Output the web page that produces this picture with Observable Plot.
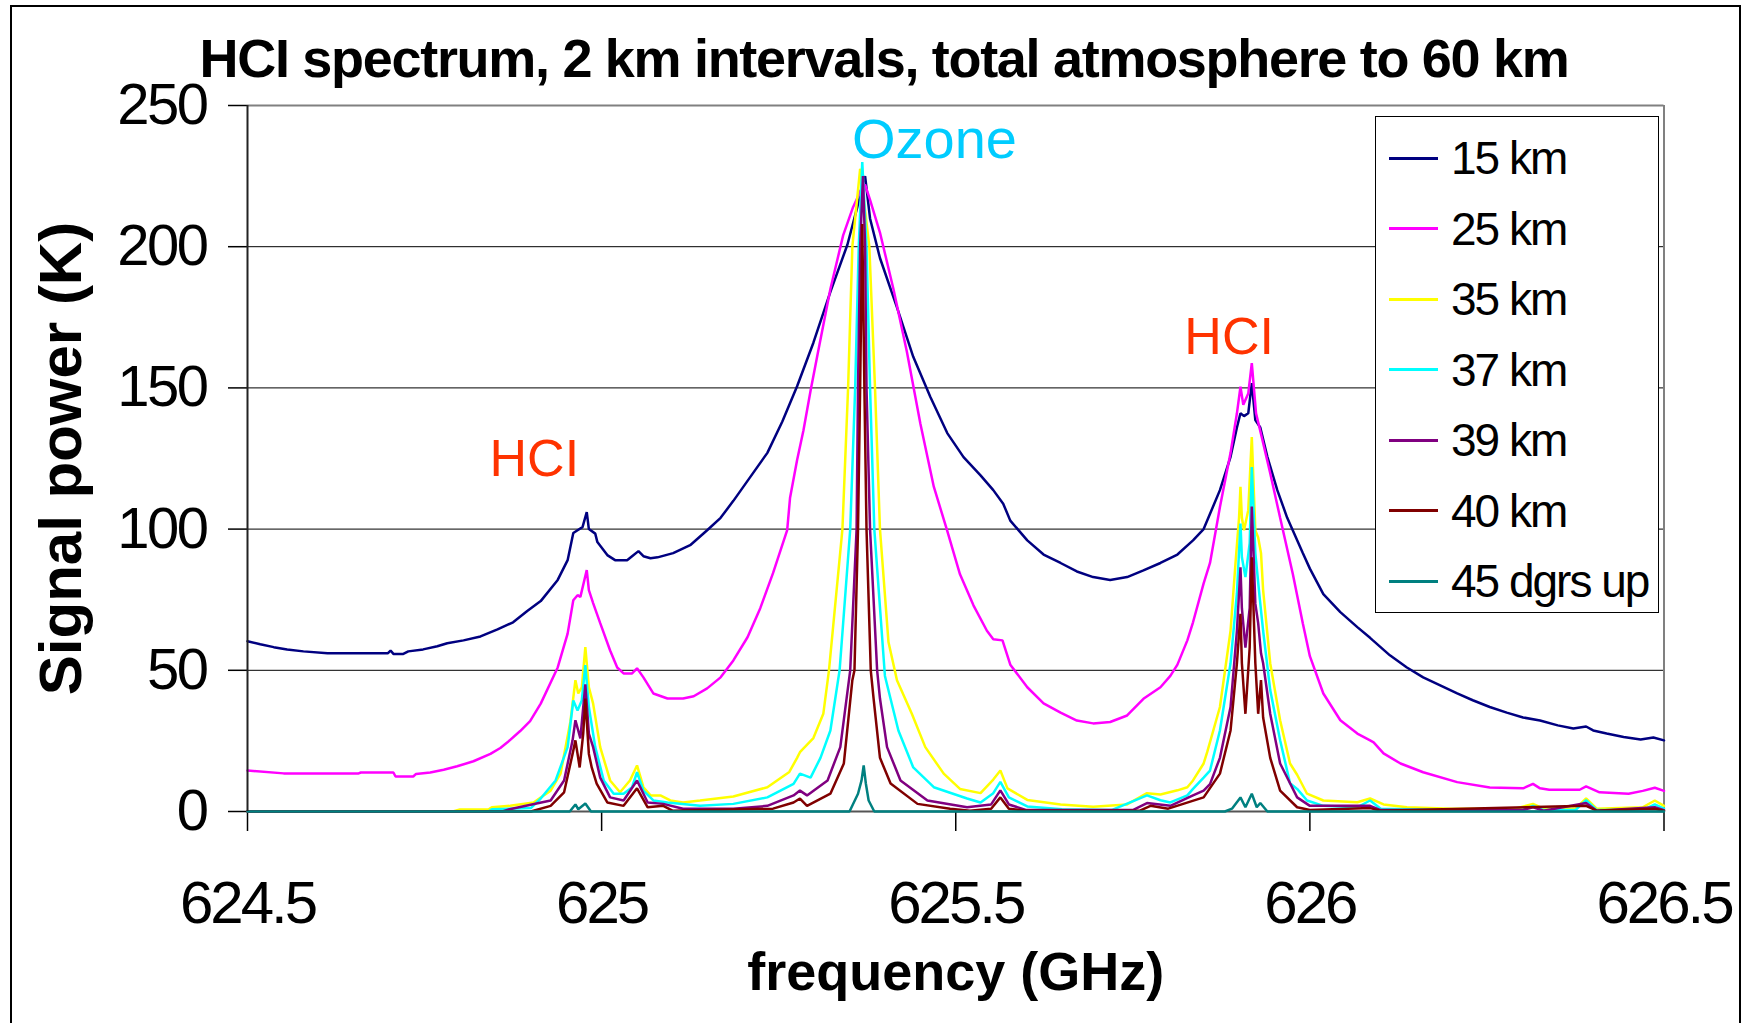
<!DOCTYPE html>
<html><head><meta charset="utf-8">
<script src="https://cdn.jsdelivr.net/npm/d3@7"></script>
<script src="https://cdn.jsdelivr.net/npm/@observablehq/plot@0.6"></script>
<style>
body{margin:0;background:#fff;}
#wrap{position:relative;width:1744px;height:1023px;overflow:hidden;background:#fff;font-family:"Liberation Sans",Arial,sans-serif;}
#border{position:absolute;left:10px;top:5px;width:1731px;height:1100px;border:2px solid #000;box-sizing:border-box;}
#title{position:absolute;left:0;top:31px;width:1768px;text-align:center;font-weight:bold;font-size:54px;line-height:54px;letter-spacing:-1.3px;color:#000;white-space:nowrap;}
#chart{position:absolute;left:0;top:0;}
#legend{position:absolute;left:1375px;top:116px;width:284px;height:497px;border:1.5px solid #000;box-sizing:border-box;background:#fff;}
.lrow{position:absolute;left:0;width:280px;height:46px;}
.lsw{position:absolute;left:13px;top:21.5px;width:49px;height:3px;}
.ltx{position:absolute;left:75px;top:0;font-size:46px;line-height:46px;letter-spacing:-2px;color:#000;white-space:nowrap;}
#chart g[aria-label="x-axis tick label"] text{font-size:60px;letter-spacing:-3px;}
#chart g[aria-label="y-axis tick label"] text{font-size:58px;letter-spacing:-2.5px;}
</style>
</head>
<body>
<div id="wrap">
  <div id="border"></div>
  <div id="chart"></div>
  <div id="title"></div>
  <div id="legend"></div>
</div>
<script>
// ---------- data ----------
const titleText = "HCI spectrum, 2 km intervals, total atmosphere to 60 km";
const xTitle = "frequency (GHz)";
const yTitle = "Signal power (K)";
const xTicks = [624.5, 625, 625.5, 626, 626.5];
const yTicks = [0, 50, 100, 150, 200, 250];
const gridValues = [50, 100, 150, 200];

const seriesNames = ["15 km", "25 km", "35 km", "37 km", "39 km", "40 km", "45 dgrs up"];
const seriesColors = ["#000080", "#FF00FF", "#FFFF00", "#00FFFF", "#800080", "#800000", "#008080"];

const s15 = [[624.5,60.3],[624.518,59.2],[624.537,58.2],[624.556,57.4],[624.579,56.7],[624.613,56],[624.698,56],[624.702,57],[624.706,55.8],[624.72,55.8],[624.727,56.7],[624.748,57.4],[624.768,58.5],[624.782,59.6],[624.805,60.6],[624.829,62],[624.853,64.5],[624.875,67],[624.895,71],[624.914,74.5],[624.938,82],[624.952,89],[624.96,98.6],[624.966,99.6],[624.973,100.7],[624.979,106],[624.982,100],[624.991,98.4],[624.994,95.4],[625.008,90.8],[625.019,89],[625.036,89],[625.043,90.4],[625.052,92.2],[625.059,90.4],[625.069,89.7],[625.079,90],[625.101,91.5],[625.125,94.3],[625.149,99.6],[625.168,104],[625.186,110],[625.21,118.5],[625.234,127],[625.255,138],[625.276,150.6],[625.299,166],[625.323,184],[625.347,200.7],[625.361,214],[625.368,222],[625.372,225],[625.379,210],[625.393,196],[625.417,178.5],[625.44,161],[625.464,146.9],[625.488,134],[625.511,125.5],[625.535,119],[625.553,113.8],[625.567,109],[625.577,103],[625.601,96],[625.624,91],[625.648,88],[625.671,85],[625.694,83],[625.718,82],[625.742,83],[625.765,85.4],[625.789,88],[625.813,91],[625.835,96],[625.85,100],[625.873,113.8],[625.888,125.6],[625.897,136],[625.902,141],[625.907,140],[625.913,141],[625.918,151.7],[625.923,138.6],[625.93,136],[625.94,125.6],[625.954,113.8],[625.968,104],[625.99,91.5],[626.0,86],[626.019,77],[626.043,70.6],[626.067,65.3],[626.085,61.5],[626.089,60.6],[626.113,55.3],[626.137,51],[626.16,47.5],[626.184,44.7],[626.208,41.8],[626.23,39.4],[626.254,37],[626.278,35],[626.301,33.3],[626.325,32.2],[626.35,30.5],[626.372,29.4],[626.39,30.1],[626.4,28.7],[626.419,27.6],[626.443,26.4],[626.467,25.5],[626.485,26.2],[626.5,25.2]];

const s25 = [[624.5,14.5],[624.551,13.5],[624.657,13.5],[624.66,13.8],[624.706,13.8],[624.709,12.4],[624.734,12.4],[624.738,13.3],[624.758,13.8],[624.777,14.8],[624.796,16],[624.819,17.8],[624.843,20.4],[624.857,22.5],[624.867,24.5],[624.885,28.5],[624.899,32],[624.914,38.2],[624.938,51],[624.952,63],[624.96,74.8],[624.966,76.6],[624.97,76],[624.979,85.5],[624.982,78.4],[624.988,73.8],[624.998,66.7],[625.012,57],[625.022,51],[625.031,48.9],[625.043,48.9],[625.05,50.7],[625.059,47.5],[625.073,41.8],[625.093,40],[625.115,40],[625.13,40.8],[625.149,43.6],[625.168,47.5],[625.186,53.5],[625.206,61.7],[625.224,72],[625.242,84.4],[625.262,99.6],[625.266,111],[625.276,124.5],[625.285,135],[625.295,149],[625.305,162],[625.323,185],[625.341,204],[625.355,214],[625.368,221],[625.372,222],[625.379,216.6],[625.393,205],[625.412,185],[625.431,162.8],[625.45,137.4],[625.469,115],[625.488,99.4],[625.506,84],[625.525,73],[625.544,64],[625.553,61],[625.566,60.6],[625.577,52],[625.601,44],[625.624,38.3],[625.648,35],[625.671,32.2],[625.694,31.2],[625.718,31.7],[625.742,34],[625.765,39.9],[625.789,44],[625.803,48],[625.813,52],[625.827,60.6],[625.835,67],[625.85,80.8],[625.859,88],[625.873,107.8],[625.888,127],[625.897,141],[625.902,150.4],[625.906,144],[625.913,148],[625.918,158.8],[625.924,141],[625.932,132.6],[625.944,119.8],[625.958,104],[625.976,84],[625.99,66.7],[626.0,55],[626.019,41.8],[626.043,32.3],[626.067,27.6],[626.085,25.2],[626.09,24.5],[626.104,20.6],[626.128,17],[626.16,13.9],[626.208,10.4],[626.254,8.5],[626.301,8.2],[626.315,9.8],[626.325,8.2],[626.338,7.7],[626.381,7.7],[626.39,8.9],[626.409,6.8],[626.45,6.3],[626.47,7.3],[626.487,8.4],[626.5,7.3]];

const s35 = [[624.5,0],[624.79,0],[624.8,0.7],[624.84,0.7],[624.845,1.5],[624.871,2],[624.904,3.2],[624.928,7.4],[624.942,13.4],[624.956,32],[624.963,46.5],[624.967,41.8],[624.972,44],[624.977,58.2],[624.982,44],[624.988,38.2],[624.998,22.8],[625.012,11],[625.026,6.8],[625.04,11],[625.05,16.3],[625.059,8.6],[625.069,5.7],[625.083,5.7],[625.097,3.9],[625.115,3.2],[625.139,3.9],[625.186,5.3],[625.234,8.6],[625.265,14],[625.276,19],[625.28,21],[625.299,26],[625.313,34.6],[625.321,50],[625.34,100],[625.348,150],[625.354,200],[625.365,227.6],[625.378,200],[625.386,150],[625.393,100],[625.405,60],[625.417,46.5],[625.438,34.6],[625.457,22.8],[625.483,13.4],[625.506,8],[625.535,6.5],[625.553,11.3],[625.563,14.5],[625.573,8.2],[625.601,4.1],[625.648,2.5],[625.694,1.7],[625.742,2.5],[625.77,6.5],[625.789,6],[625.813,7.5],[625.827,8.6],[625.835,11],[625.85,17],[625.855,21],[625.873,37],[625.888,64],[625.895,88],[625.9,104],[625.902,115],[625.904,104],[625.907,99.6],[625.913,106.7],[625.918,132.6],[625.923,99.6],[625.927,97],[625.931,91.5],[625.934,78.4],[625.944,52.5],[625.958,32.3],[625.972,17],[625.982,13],[625.996,6.3],[626.019,3.9],[626.067,3.3],[626.085,4.6],[626.104,2.5],[626.137,1.5],[626.2,1],[626.29,1],[626.315,2.7],[626.33,1],[626.375,1],[626.39,4.6],[626.405,1],[626.47,1.5],[626.487,3.9],[626.5,2]];

const s37 = [[624.5,0],[624.84,0],[624.845,0.8],[624.9,1.2],[624.914,4.6],[624.935,11],[624.952,22.8],[624.96,39.3],[624.966,35.8],[624.972,39.3],[624.977,51.8],[624.982,36.9],[624.991,22.8],[625.003,11],[625.017,6.3],[625.031,6.3],[625.043,8.6],[625.05,13.9],[625.059,7.4],[625.073,3.9],[625.093,3.2],[625.139,2],[625.186,2.7],[625.234,5],[625.271,9.8],[625.28,13.4],[625.295,12],[625.309,19],[625.323,28.7],[625.336,50],[625.351,100],[625.358,150],[625.363,200],[625.368,230],[625.374,200],[625.379,150],[625.385,100],[625.4,48],[625.419,28.7],[625.44,15.6],[625.469,8.6],[625.516,4.6],[625.535,3.2],[625.553,6.5],[625.563,10.5],[625.575,5],[625.601,1.8],[625.65,0.8],[625.72,0.5],[625.77,5.7],[625.789,4],[625.803,3.2],[625.827,5.7],[625.835,8],[625.85,12],[625.859,14.5],[625.873,28.7],[625.888,52.5],[625.897,77.3],[625.902,102],[625.904,90],[625.909,83],[625.915,95],[625.918,122],[625.923,91.5],[625.929,76],[625.934,64],[625.944,43],[625.958,25.2],[625.972,10],[625.982,8],[625.996,3.9],[626.019,2],[626.067,1.5],[626.085,3.9],[626.1,1],[626.2,0.5],[626.3,0.5],[626.315,2],[626.33,0.5],[626.375,0.5],[626.39,4],[626.405,0.5],[626.47,0.5],[626.487,2.5],[626.5,1]];

const s39 = [[624.5,0],[624.86,0],[624.87,0.8],[624.928,3.9],[624.947,11],[624.959,25.2],[624.963,32.3],[624.97,25.9],[624.977,45],[624.982,27.6],[624.988,22.8],[624.998,12],[625.012,5],[625.031,3.9],[625.05,11],[625.065,3.2],[625.087,2.7],[625.115,1],[625.186,1],[625.234,2],[625.271,5.7],[625.28,7.4],[625.29,5.7],[625.319,11],[625.337,22.8],[625.351,50],[625.36,100],[625.362,150],[625.365,200],[625.369,225],[625.372,200],[625.374,150],[625.379,100],[625.389,50],[625.393,40],[625.403,22.8],[625.422,11],[625.46,3.9],[625.516,1.5],[625.55,2.5],[625.563,7.5],[625.575,2.5],[625.6,0.5],[625.75,0.5],[625.77,3],[625.803,2],[625.835,5.7],[625.85,7.4],[625.859,9.7],[625.873,19],[625.888,37],[625.897,64],[625.902,86.5],[625.904,72],[625.909,58],[625.915,72],[625.918,108],[625.923,73.6],[625.927,66.7],[625.931,56],[625.934,52.5],[625.944,34.6],[625.958,17],[625.982,5],[626.0,2],[626.085,2],[626.1,0.5],[626.3,0.5],[626.315,1.5],[626.33,0.3],[626.39,3],[626.405,0.3],[626.487,1.5],[626.5,0.5]];

const s40 = [[624.5,0],[624.9,0],[624.928,2],[624.947,6.8],[624.959,20.4],[624.963,25.2],[624.969,15.6],[624.974,27.6],[624.977,40],[624.982,20.4],[624.986,15.6],[624.993,9.9],[625.008,3.2],[625.031,2],[625.05,8.2],[625.065,1.5],[625.087,2],[625.1,0.3],[625.242,1],[625.271,3.2],[625.28,4.6],[625.29,2],[625.323,6.3],[625.342,17],[625.354,46.5],[625.357,50],[625.362,100],[625.365,150],[625.368,208],[625.371,150],[625.374,100],[625.38,50],[625.384,40],[625.393,19],[625.408,9.9],[625.446,2.7],[625.492,1],[625.52,0.3],[625.55,1],[625.563,5],[625.575,1],[625.6,0.3],[625.76,0.3],[625.775,2],[625.8,1],[625.85,5],[625.873,13.4],[625.888,28.7],[625.897,52.5],[625.902,70],[625.904,52.5],[625.909,34.6],[625.915,58],[625.918,90],[625.923,52.5],[625.927,34.6],[625.931,46.5],[625.934,33.3],[625.944,19],[625.958,7.4],[625.982,1.5],[626.0,0.5],[626.085,1.2],[626.1,0.3],[626.39,2],[626.405,0.3],[626.487,1],[626.5,0.3]];

const s45 = [[624.5,0],[624.955,0],[624.963,2.5],[624.967,0.8],[624.977,2.8],[624.985,0],[625.35,0],[625.362,6.3],[625.367,11],[625.37,16.3],[625.373,10],[625.377,3.9],[625.385,0],[625.88,0],[625.89,1],[625.902,5],[625.909,1.5],[625.918,6.3],[625.925,1.5],[625.93,3],[625.94,0],[626.5,0]];

const seriesData = [s15, s25, s35, s37, s39, s40, s45];

const noteText = ["HCI", "Ozone", "HCI"];
const noteFreq = [624.905, 625.47, 625.886];
const noteValue = [124.8, 237.6, 168];
const noteColor = ["#FF3300", "#00CCFF", "#FF3300"];
const noteSize = [52, 56, 52];

// ---------- chart ----------
document.getElementById("title").textContent = titleText;

const lineMarks = seriesData.map((d, i) =>
  Plot.line(d, {x: p => p[0], y: p => p[1], stroke: seriesColors[i], strokeWidth: 2.5, strokeLinejoin: "miter"})
);
const noteMarks = noteText.map((t, i) =>
  Plot.text([i], {x: () => noteFreq[i], y: () => noteValue[i], text: () => t, fill: noteColor[i], fontSize: noteSize[i]})
);

const chart = Plot.plot({
  width: 1744,
  height: 1023,
  marginLeft: 247,
  marginRight: 80.5,
  marginTop: 105,
  marginBottom: 212,
  style: {fontFamily: "'Liberation Sans', Arial, sans-serif", background: "transparent", color: "#000", overflow: "visible"},
  x: {domain: [624.5, 626.5]},
  y: {domain: [0, 250]},
  marks: [
    Plot.ruleY(gridValues, {stroke: "#000", strokeWidth: 1}),
    Plot.ruleY([250], {stroke: "#808080", strokeWidth: 2}),
    Plot.ruleX([626.5], {y1: 0, y2: 250, stroke: "#808080", strokeWidth: 2}),
    Plot.ruleY([0], {stroke: "#555", strokeWidth: 2}),
    Plot.axisY({ticks: yTicks, tickSize: 19, tickPadding: 22, tickFormat: d => String(d), strokeWidth: 1.5, label: null}),
    Plot.axisX({ticks: xTicks, tickSize: 20, tickPadding: 49, tickFormat: d => String(d), strokeWidth: 1.5, label: null}),
    ...lineMarks,
    Plot.ruleX([624.5], {y1: 0, y2: 250, stroke: "#222", strokeWidth: 2}),
    ...noteMarks,
    Plot.text([yTitle], {frameAnchor: "left", dx: -186, rotate: -90, textAnchor: "middle", lineAnchor: "middle", text: d => d, fontSize: 60, fontWeight: "bold", fill: "#000"}),
    Plot.text([xTitle], {frameAnchor: "bottom", dy: 161, textAnchor: "middle", lineAnchor: "middle", text: d => d, fontSize: 54, fontWeight: "bold", fill: "#000", letterSpacing: -1})
  ]
});
document.getElementById("chart").appendChild(chart);

// ---------- legend ----------
const legend = document.getElementById("legend");
seriesNames.forEach((name, i) => {
  const row = document.createElement("div");
  row.className = "lrow";
  row.style.top = (41 + i * 70.5 - 23) + "px";
  const sw = document.createElement("div");
  sw.className = "lsw";
  sw.style.background = seriesColors[i];
  const tx = document.createElement("div");
  tx.className = "ltx";
  tx.textContent = name;
  row.appendChild(sw);
  row.appendChild(tx);
  legend.appendChild(row);
});
</script>
</body></html>
